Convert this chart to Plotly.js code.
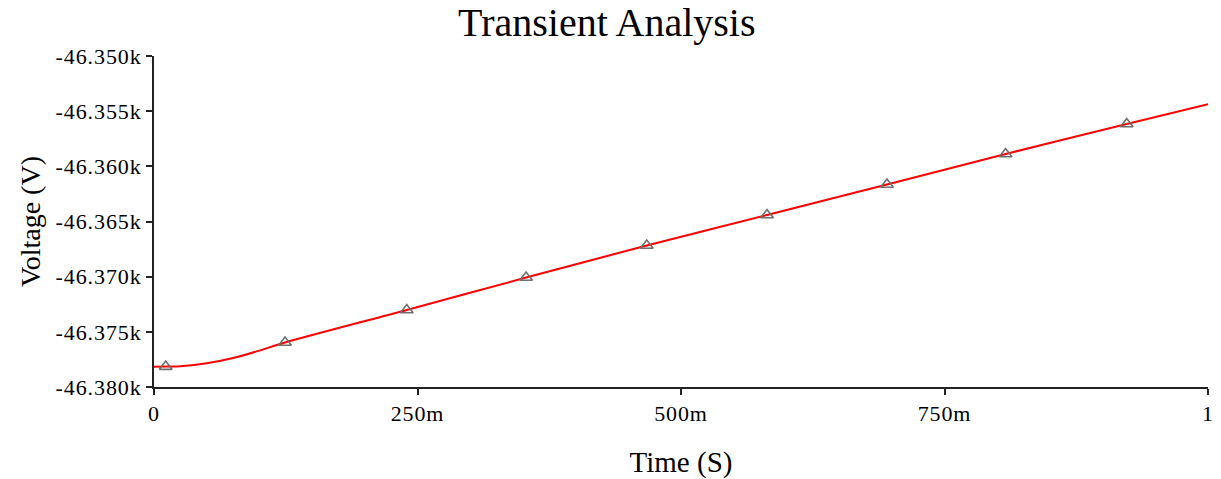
<!DOCTYPE html>
<html>
<head>
<meta charset="utf-8">
<script src="https://cdn.plot.ly/plotly-3.0.1.min.js"></script>
<style>
  html, body { margin: 0; padding: 0; background: #fff; }
  #chart { width: 1221px; height: 479px; }
  #chart .xtick text, #chart .ytick text { letter-spacing: 0.9px; }
</style>
</head>
<body>
<div id="chart"></div>
<script>
// Transient response: node voltage over time
const timeS = [0, 0.0111, 0.025, 0.05, 0.075, 0.1, 0.1243, 0.2398, 0.353, 0.4675, 0.5816, 0.6954, 0.808, 0.9229, 1.0];
const voltageV = [-46378.17, -46378.15, -46378.11, -46377.85, -46377.37, -46376.70, -46375.97, -46373.02,
                  -46370.08, -46367.18, -46364.41, -46361.65, -46358.88, -46356.16, -46354.38];

// Sample markers placed along the trace
const markerTime = [0.0111, 0.1243, 0.2398, 0.353, 0.4675, 0.5816, 0.6954, 0.808, 0.9229];
const markerVolt = [-46378.15, -46375.97, -46373.02, -46370.08, -46367.18, -46364.41, -46361.65, -46358.88, -46356.16];

const xTickVals = [0, 0.25, 0.5, 0.75, 1];
const xTickText = ['0', '250m', '500m', '750m', '1'];
const yTickVals = [-46380, -46375, -46370, -46365, -46360, -46355, -46350];
const yTickText = ['-46.380k', '-46.375k', '-46.370k', '-46.365k', '-46.360k', '-46.355k', '-46.350k'];

const serif = 'Times New Roman, Liberation Serif, serif';

const traces = [
  {
    x: timeS, y: voltageV, type: 'scatter', mode: 'lines',
    line: { color: '#ff0000', width: 2, shape: 'spline', smoothing: 0.8 },
    hoverinfo: 'skip', showlegend: false
  },
  {
    x: markerTime, y: markerVolt, type: 'scatter', mode: 'markers',
    marker: { symbol: 'triangle-up-open', size: 11, color: '#6e6e6e', line: { width: 1.6, color: '#6e6e6e' } },
    showlegend: false
  }
];

const layout = {
  width: 1221, height: 479,
  margin: { l: 154, r: 13, t: 56, b: 92 },
  paper_bgcolor: '#ffffff', plot_bgcolor: '#ffffff',
  title: {
    text: 'Transient Analysis', xref: 'container', x: 0.497, xanchor: 'center',
    yref: 'container', y: 0.955, yanchor: 'middle',
    font: { family: serif, size: 40, color: '#000000' }
  },
  xaxis: {
    range: [0, 1], tickvals: xTickVals, ticktext: xTickText,
    showgrid: false, zeroline: false, showline: true, linecolor: '#222222', linewidth: 2,
    ticks: 'outside', ticklen: 6, tickwidth: 2, tickcolor: '#222222',
    tickfont: { family: serif, size: 22, color: '#000000' },
    title: { text: 'Time (S)', standoff: 26, font: { family: serif, size: 29, color: '#000000' } }
  },
  yaxis: {
    range: [-46380, -46350], tickvals: yTickVals, ticktext: yTickText,
    showgrid: false, zeroline: false, showline: true, linecolor: '#222222', linewidth: 2,
    ticks: 'outside', ticklen: 6, tickwidth: 2, tickcolor: '#222222',
    tickfont: { family: serif, size: 22, color: '#000000' },
    title: { text: 'Voltage (V)', standoff: 14, font: { family: serif, size: 28, color: '#000000' } }
  }
};

Plotly.newPlot('chart', traces, layout, { displayModeBar: false, staticPlot: true });
</script>
</body>
</html>
